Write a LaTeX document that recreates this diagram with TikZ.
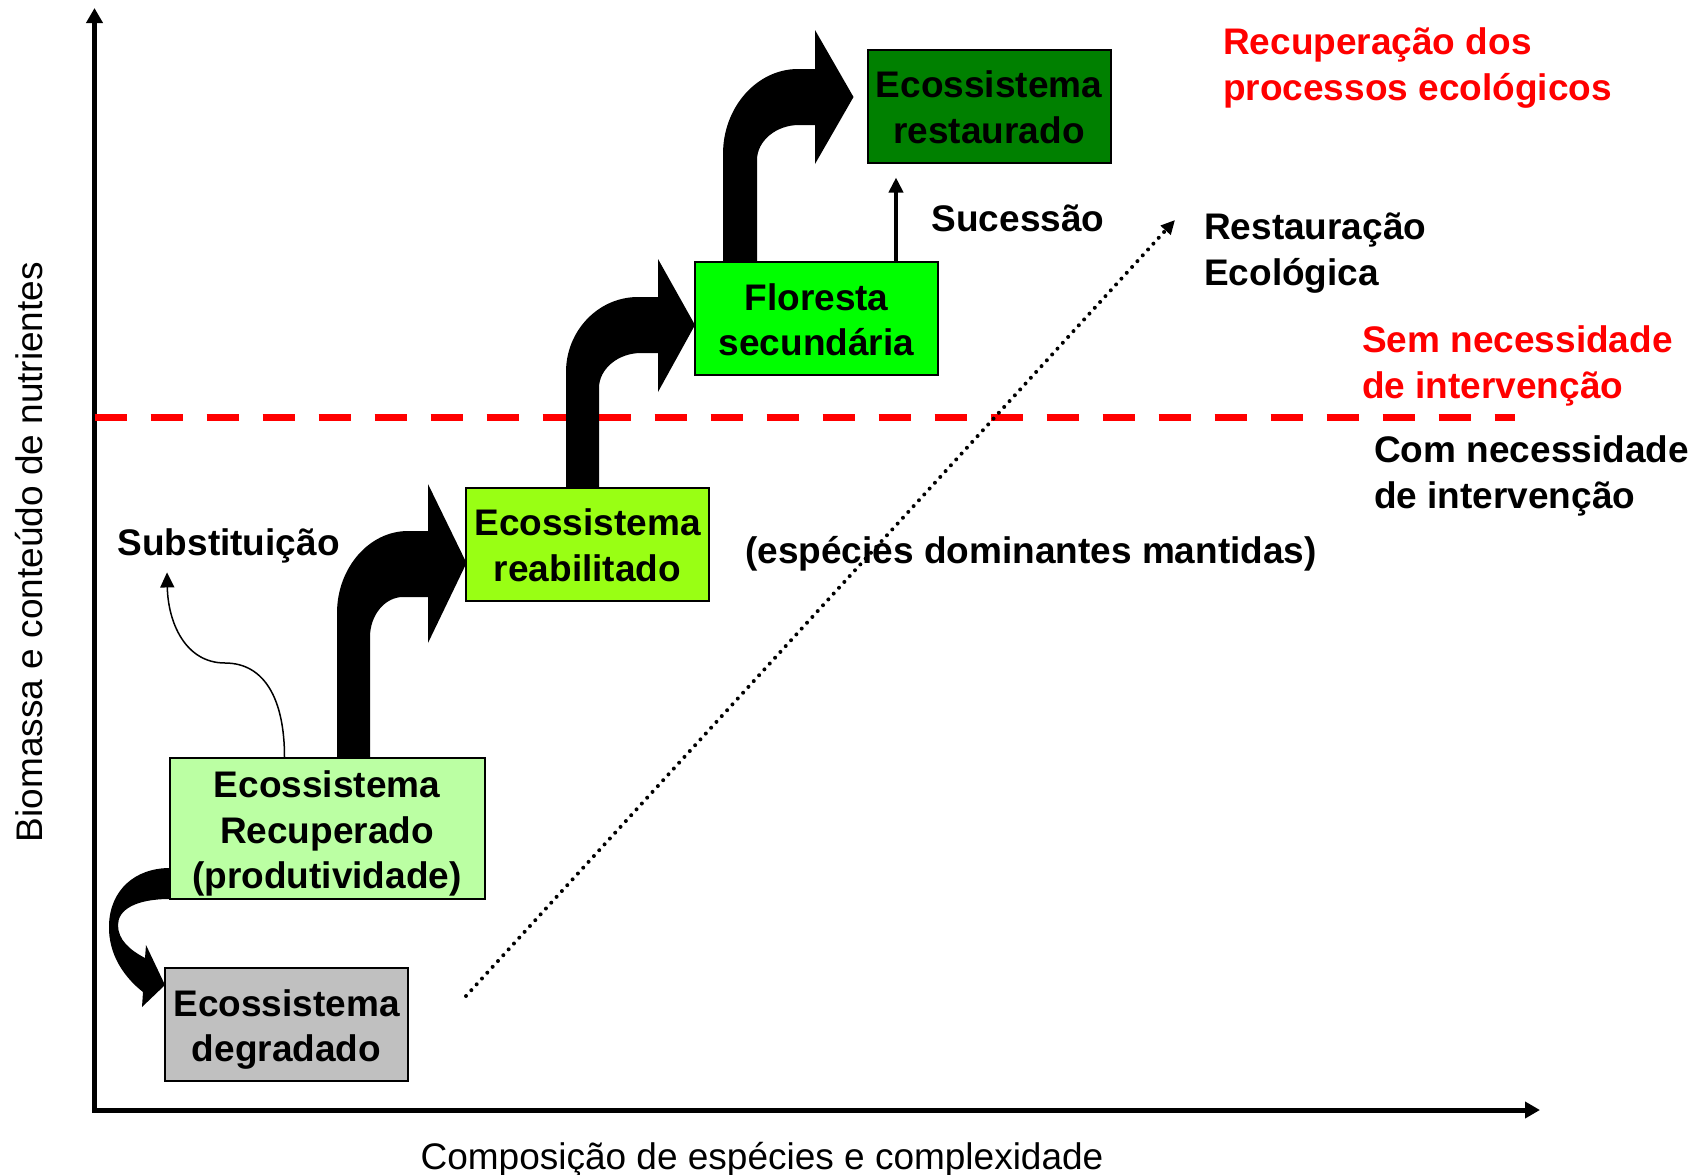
\documentclass[tikz,border=0pt]{standalone}
\usepackage{fontspec}
\setmainfont{Liberation Sans}
\usetikzlibrary{arrows.meta}

\definecolor{cinza}{RGB}{192,192,192}
\definecolor{verdeclaro}{RGB}{187,255,163}
\definecolor{verdelima}{RGB}{153,255,20}
\definecolor{verdevivo}{RGB}{0,255,0}
\definecolor{verdeescuro}{RGB}{0,128,0}
\definecolor{vermelho}{RGB}{255,0,0}

\newcommand{\topstrut}{\rule{0pt}{37pt}}

\begin{document}
\begin{tikzpicture}[x=1pt, y=-1pt,
    box/.style={draw, line width=2pt, inner sep=0pt, minimum width=243pt, minimum height=113pt,
        align=center, font=\fontsize{37}{45.5}\selectfont\bfseries,
        execute at end node={\rule[-8pt]{0pt}{8pt}}},
    txt/.style={inner sep=0pt, align=left, font=\fontsize{37}{45.5}\selectfont\bfseries},
    axislabel/.style={inner sep=0pt, font=\fontsize{37}{45}\selectfont},
    thin arrow/.style={-{Triangle[length=15pt,width=14pt]}}]
    \fill[white] (0,0) rectangle (1703,1175);
    \useasboundingbox (0,0) rectangle (1703,1175);

    % axes
    \coordinate (origin) at (94.5,1110);
    \coordinate (ytop) at (94.5,8);
    \coordinate (xend) at (1540,1110);
    \draw[line width=5pt, {Triangle[length=15pt,width=16pt]}-{Triangle[length=15pt,width=16pt]}] (ytop) -- (origin) -- (xend);
    \node[axislabel, rotate=90] (ylab) at (29,552) {Biomassa e conteúdo de nutrientes};
    \node[axislabel] (xlab) at (762,1160) {Composição de espécies e complexidade};

    % intervention threshold
    \coordinate (dl) at (94.5,417);
    \coordinate (dr) at (1515,417);
    \draw[vermelho, line width=7pt, dash pattern=on 32pt off 24pt] (dl) -- (dr);

    % stages
    \node[box, fill=cinza] (deg) at (286.5,1024.5) {\topstrut Ecossistema\\degradado};
    \node[box, fill=verdeclaro, minimum width=315pt, minimum height=141pt] (rec) at (327,828.5) {\topstrut Ecossistema\\Recuperado\\(produtividade)};
    \node[box, fill=verdelima] (reab) at (587.5,544) {\topstrut Ecossistema\\reabilitado};
    \node[box, fill=verdevivo] (flo) at (816.5,318.5) {\topstrut Floresta\\secundária};
    \node[box, fill=verdeescuro] (res) at (989,106) {\topstrut Ecossistema\\restaurado};

    % big bent arrows
    \fill (170,868) .. controls (135,868) and (110,890) .. (109,925) .. controls (108,955) and (125,978) .. (143,992)
        -- (142,1007) -- (165,985) -- (146,945) -- (145,958)
        .. controls (130,950) and (118,940) .. (118,925) .. controls (118,910) and (135,899) .. (170,899) -- cycle;
    \fill (337,758) -- (337,613) .. controls (337,568) and (369,531) .. (408,531) -- (428,531) -- (428,484)
        -- (466.5,563) -- (428,643) -- (428,597) -- (403,597) .. controls (385,597) and (370,615) .. (370,637) -- (370,758) -- cycle;
    \fill (566,488) -- (566,372) .. controls (566,331) and (598,297) .. (638,297) -- (658,297) -- (658,259)
        -- (695,325) -- (658,392) -- (658,353) -- (641,353) .. controls (618,353) and (599,369) .. (599,388) -- (599,488) -- cycle;
    \fill (723,262) -- (723,154) .. controls (723,107) and (757,69) .. (798,69) -- (815,69) -- (815,30)
        -- (853.5,97) -- (815,164) -- (815,125) -- (799,125) .. controls (776,125) and (757,141) .. (757,160) -- (757,262) -- cycle;

    % labels
    \node[txt, vermelho, anchor=west] (recproc) at (1223,68) {Recuperação dos\\processos ecológicos};
    \node[txt] (suc) at (1018,218) {Sucessão};
    \node[txt, anchor=west] (resteco) at (1204,253) {Restauração\\Ecológica};
    \node[txt, vermelho, anchor=west] (sem) at (1362,366) {Sem necessidade\\de intervenção};
    \node[txt, anchor=west] (com) at (1374,476) {Com necessidade\\de intervenção};
    \node[txt] (mant) at (1031,554) {(espécies dominantes mantidas)};
    \node[txt] (subst) at (228.6,546) {Substituição};

    % thin arrows
    \coordinate (sucbase) at ([xshift=79.5pt]flo.north);
    \draw[thin arrow, line width=4pt, shorten >=14pt] (sucbase) -- (sucbase |- res.south);
    \draw[thin arrow, line width=1.5pt] ([xshift=-42.5pt]rec.north) .. controls (284.5,700) and (265,663) .. (225,663)
        .. controls (185,663) and (168,622) .. ([xshift=-61.6pt,yshift=-9pt]subst.south);
    \coordinate (dstart) at (466,996);
    \coordinate (dend) at (1175,220);
    \draw[line width=4pt, line cap=round, dash pattern=on 0pt off 7.9pt, -{Triangle[length=14pt,width=13pt]}] (dstart) -- (dend);
\end{tikzpicture}
\end{document}
